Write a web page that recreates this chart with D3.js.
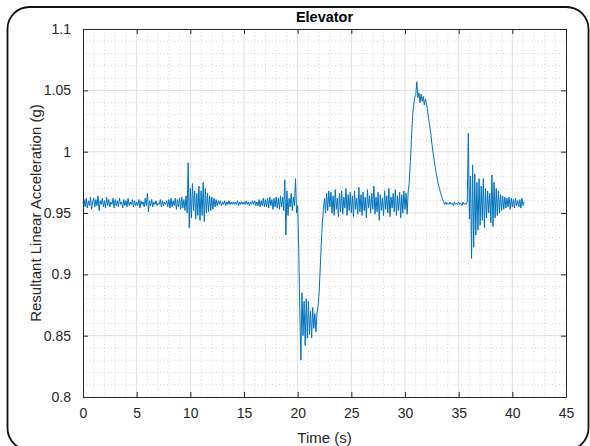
<!DOCTYPE html>
<html><head><meta charset="utf-8">
<script src="https://cdn.jsdelivr.net/npm/d3@7"></script>
<style>
html,body{margin:0;padding:0;background:#fff;}
svg{display:block;font-family:"Liberation Sans",Arial,Helvetica,sans-serif;}
</style></head>
<body>
<svg id="chart" width="590" height="446"></svg>
<script>
// ---------------- data ----------------
const chartTitle = "Elevator";
const xLabel = "Time (s)";
const yLabel = "Resultant Linear Acceleration (g)";
const xTicks = [0,5,10,15,20,25,30,35,40,45];
const yTicks = [0.8,0.85,0.9,0.95,1,1.05,1.1];
const yTickLabels = ["0.8","0.85","0.9","0.95","1","1.05","1.1"];
const sampleInterval = 0.1; // s, signal sampled at fixed rate starting at t = 0
// resultant acceleration (g), one row per second
const accel = [
 .958,.961,.955,.962,.954,.960,.956,.963,.953,.959,
 .962,.955,.961,.956,.964,.952,.960,.957,.962,.955,
 .960,.954,.963,.956,.961,.955,.959,.957,.962,.954,
 .961,.956,.960,.955,.962,.957,.959,.954,.961,.956,
 .960,.955,.962,.956,.959,.957,.961,.955,.960,.956,
 .959,.956,.961,.954,.960,.957,.959,.955,.962,.956,
 .966,.951,.960,.956,.961,.955,.959,.957,.960,.956,
 .958,.957,.961,.955,.960,.956,.959,.957,.960,.955,
 .961,.954,.962,.955,.960,.956,.962,.953,.961,.955,
 .962,.953,.963,.954,.961,.952,.964,.950,.991,.938,
 .970,.946,.974,.952,.968,.945,.966,.948,.972,.944,
 .968,.948,.975,.943,.970,.950,.966,.951,.964,.952,
 .963,.953,.962,.955,.961,.956,.960,.957,.960,.956,
 .959,.957,.960,.956,.959,.957,.960,.957,.959,.957,
 .959,.957,.959,.957,.960,.956,.959,.957,.959,.957,
 .959,.957,.960,.957,.959,.956,.959,.957,.960,.957,
 .960,.956,.959,.956,.961,.955,.960,.956,.962,.955,
 .961,.955,.962,.954,.963,.956,.961,.953,.962,.955,
 .963,.954,.962,.953,.964,.955,.963,.952,.977,.932,
 .968,.948,.962,.955,.966,.952,.963,.956,.978,.950,
 .956,.920,.870,.830,.885,.850,.878,.842,.880,.848,
 .878,.851,.870,.848,.873,.856,.868,.853,.868,.874,
 .885,.905,.925,.942,.953,.962,.950,.966,.952,.968,
 .955,.967,.950,.964,.948,.969,.953,.962,.947,.966,
 .951,.968,.949,.963,.954,.970,.948,.965,.952,.967,
 .950,.964,.947,.968,.953,.962,.949,.971,.951,.965,
 .948,.967,.952,.963,.946,.969,.954,.964,.950,.966,
 .953,.972,.949,.963,.951,.967,.944,.965,.952,.962,
 .948,.968,.953,.964,.950,.970,.947,.963,.954,.966,
 .951,.969,.948,.964,.952,.967,.946,.965,.950,.968,
 .953,.966,.949,.968,.975,.992,1.010,1.028,1.037,1.044,
 1.046,1.057,1.044,1.048,1.040,1.047,1.041,1.045,1.038,1.043,
 1.039,1.034,1.027,1.021,1.015,1.007,1.000,.994,.988,.983,
 .978,.974,.970,.967,.964,.961,.959,.957,.959,.957,
 .958,.957,.959,.957,.958,.956,.959,.957,.958,.957,
 .959,.957,.958,.956,.959,.957,.958,.957,.959,1.015,
 .945,.980,.913,.989,.922,.982,.932,.975,.936,.978,
 .940,.972,.944,.978,.938,.970,.946,.968,.950,.966,
 .942,.981,.939,.975,.946,.970,.948,.968,.950,.965,
 .952,.964,.953,.963,.954,.962,.955,.963,.953,.962,
 .955,.961,.954,.962,.956,.960,.955,.961,.954,.962,
 .956,.959
];

// ---------------- layout ----------------
const W = 590, H = 446;
const M = {left: 83, right: 566, top: 29, bottom: 397};
const axisColor = "#262626";
const svg = d3.select("#chart");

const x = d3.scaleLinear().domain([0,45]).range([M.left, M.right]);
const y = d3.scaleLinear().domain([0.8,1.1]).range([M.bottom, M.top]);

// outer rounded frame
svg.append("rect").attr("x",7.5).attr("y",7).attr("width",581).attr("height",443)
  .attr("rx",22).attr("ry",22).attr("fill","#fff").attr("stroke","#111").attr("stroke-width",1.8);

// plot background
svg.append("rect").attr("x",M.left).attr("y",M.top).attr("width",M.right-M.left).attr("height",M.bottom-M.top).attr("fill","#fff");

// minor grid (dotted)
const xMinor = d3.range(1,45).filter(v => v % 5 !== 0);
const yMinor = d3.range(81,110).filter(v => v % 5 !== 0).map(v => v/100);
const g = svg.append("g");
g.selectAll(".xm").data(xMinor).enter().append("line")
  .attr("x1",d=>x(d)).attr("x2",d=>x(d)).attr("y1",M.top).attr("y2",M.bottom)
  .attr("stroke","#cbcbcb").attr("stroke-width",0.8).attr("stroke-dasharray","1,2.5");
g.selectAll(".ym").data(yMinor).enter().append("line")
  .attr("y1",d=>y(d)).attr("y2",d=>y(d)).attr("x1",M.left).attr("x2",M.right)
  .attr("stroke","#cbcbcb").attr("stroke-width",0.8).attr("stroke-dasharray","1,2.5");
// major grid
g.selectAll(".xg").data(xTicks.slice(1,-1)).enter().append("line")
  .attr("x1",d=>x(d)).attr("x2",d=>x(d)).attr("y1",M.top).attr("y2",M.bottom)
  .attr("stroke","#dfdfdf").attr("stroke-width",1);
g.selectAll(".yg").data(yTicks.slice(1,-1)).enter().append("line")
  .attr("y1",d=>y(d)).attr("y2",d=>y(d)).attr("x1",M.left).attr("x2",M.right)
  .attr("stroke","#dfdfdf").attr("stroke-width",1);

// data line
const line = d3.line().x((d,i)=>x(i*sampleInterval)).y(d=>y(d));
svg.append("path").datum(accel).attr("d",line)
  .attr("fill","none").attr("stroke","#0072BD").attr("stroke-width",1).attr("stroke-linejoin","round");

// axes (ticks inside, box)
function styleAxis(sel){
  sel.select(".domain").attr("stroke",axisColor);
  sel.selectAll(".tick line").attr("stroke",axisColor);
  sel.selectAll(".tick text").attr("fill",axisColor).attr("font-size","14px");
}
const xAxis = svg.append("g").attr("transform",`translate(0,${M.bottom})`)
  .call(d3.axisBottom(x).tickValues(xTicks).tickSizeInner(-5).tickSizeOuter(0).tickPadding(11).tickFormat(d3.format("d")));
styleAxis(xAxis);
const xAxisTop = svg.append("g").attr("transform",`translate(0,${M.top})`)
  .call(d3.axisTop(x).tickValues(xTicks).tickSizeInner(-5).tickSizeOuter(0).tickFormat(""));
styleAxis(xAxisTop);
const yAxis = svg.append("g").attr("transform",`translate(${M.left},0)`)
  .call(d3.axisLeft(y).tickValues(yTicks).tickSizeInner(-5).tickSizeOuter(0).tickPadding(12).tickFormat((d,i)=>yTickLabels[i]));
styleAxis(yAxis);
const yAxisRight = svg.append("g").attr("transform",`translate(${M.right},0)`)
  .call(d3.axisRight(y).tickValues(yTicks).tickSizeInner(-5).tickSizeOuter(0).tickFormat(""));
styleAxis(yAxisRight);
svg.selectAll(".domain").attr("stroke-width",1);

// labels
svg.append("text").attr("x",(M.left+M.right)/2).attr("y",22).attr("text-anchor","middle")
  .attr("font-size","14.5px").attr("font-weight","bold").attr("fill","#000").text(chartTitle);
svg.append("text").attr("x",(M.left+M.right)/2).attr("y",443).attr("text-anchor","middle")
  .attr("font-size","15px").attr("fill",axisColor).text(xLabel);
svg.append("text").attr("transform",`translate(41,${(M.top+M.bottom)/2}) rotate(-90)`)
  .attr("text-anchor","middle").attr("font-size","15px").attr("fill",axisColor).text(yLabel);
</script>
</body></html>
